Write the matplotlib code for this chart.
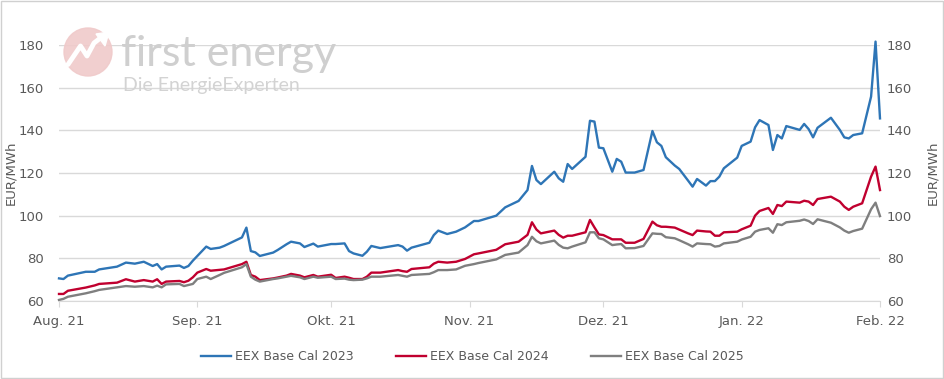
import matplotlib.pyplot as plt
import matplotlib.patches as mpatches
import pandas as pd

# EEX Base Cal futures, EUR/MWh
dates = [
    "2021-08-01", "2021-08-02", "2021-08-03", "2021-08-07", "2021-08-09", "2021-08-10",
    "2021-08-14", "2021-08-16", "2021-08-18", "2021-08-20", "2021-08-22", "2021-08-23",
    "2021-08-24", "2021-08-25", "2021-08-28", "2021-08-29", "2021-08-30", "2021-08-31",
    "2021-09-01", "2021-09-03", "2021-09-04", "2021-09-06", "2021-09-07", "2021-09-11",
    "2021-09-12", "2021-09-13", "2021-09-14", "2021-09-15", "2021-09-18", "2021-09-19",
    "2021-09-21", "2021-09-22", "2021-09-24", "2021-09-25", "2021-09-27", "2021-09-28",
    "2021-10-01", "2021-10-02", "2021-10-04", "2021-10-05", "2021-10-06", "2021-10-08",
    "2021-10-09", "2021-10-10", "2021-10-12", "2021-10-16", "2021-10-17", "2021-10-18",
    "2021-10-19", "2021-10-23", "2021-10-24", "2021-10-25", "2021-10-27", "2021-10-29",
    "2021-10-31", "2021-11-02", "2021-11-03", "2021-11-07", "2021-11-09", "2021-11-12",
    "2021-11-14", "2021-11-15", "2021-11-16", "2021-11-17", "2021-11-20", "2021-11-21",
    "2021-11-22", "2021-11-23", "2021-11-24", "2021-11-27", "2021-11-28", "2021-11-29",
    "2021-11-30", "2021-12-01", "2021-12-03", "2021-12-04", "2021-12-05", "2021-12-06",
    "2021-12-08", "2021-12-10", "2021-12-12", "2021-12-13", "2021-12-14", "2021-12-15",
    "2021-12-17", "2021-12-18", "2021-12-20", "2021-12-21", "2021-12-22", "2021-12-24",
    "2021-12-25", "2021-12-26", "2021-12-27", "2021-12-28", "2021-12-31", "2022-01-01",
    "2022-01-03", "2022-01-04", "2022-01-05", "2022-01-07", "2022-01-08", "2022-01-09",
    "2022-01-10", "2022-01-11", "2022-01-14", "2022-01-15", "2022-01-16", "2022-01-17",
    "2022-01-18", "2022-01-21", "2022-01-23", "2022-01-24", "2022-01-25", "2022-01-26",
    "2022-01-28", "2022-01-30", "2022-01-31", "2022-02-01",
]
cal_2023 = [
    70.6, 70.3, 71.9, 73.7, 73.7, 74.8, 76.1, 78.0, 77.5, 78.4, 76.4, 77.3,
    74.8, 76.1, 76.6, 75.5, 76.4, 78.9, 81.1, 85.5, 84.4, 85.0, 85.8, 89.8,
    94.4, 83.4, 82.8, 81.1, 82.7, 83.9, 86.6, 87.8, 87.0, 85.3, 86.9, 85.5,
    86.7, 86.7, 87.0, 83.4, 82.3, 81.2, 83.1, 85.8, 84.8, 86.2, 85.5, 83.6,
    85.0, 87.3, 90.9, 93.0, 91.4, 92.5, 94.5, 97.5, 97.5, 100.0, 103.9, 106.9,
    112.0, 123.3, 116.7, 114.8, 120.6, 117.5, 115.9, 124.2, 121.9, 127.6, 144.5, 144.1,
    131.9, 131.6, 120.6, 126.6, 125.3, 120.2, 120.2, 121.4, 139.7, 134.4, 132.7, 127.4,
    123.5, 121.9, 116.4, 113.6, 117.2, 114.1, 116.2, 116.2, 118.3, 122.2, 127.2, 132.7,
    134.7, 141.4, 144.8, 142.5, 130.8, 137.8, 136.2, 142.0, 140.2, 143.0, 140.6, 136.7,
    141.2, 145.9, 140.2, 136.7, 136.2, 137.8, 138.6, 155.8, 181.6, 145.6,
]
cal_2024 = [
    63.3, 63.3, 64.8, 66.3, 67.3, 68.0, 68.6, 70.2, 69.1, 69.8, 69.1, 70.2,
    68.0, 69.1, 69.4, 68.8, 69.5, 71.1, 73.3, 75.0, 74.2, 74.6, 74.8, 77.3,
    78.4, 72.2, 71.4, 69.8, 70.6, 71.0, 71.9, 72.7, 71.9, 71.1, 72.2, 71.4,
    72.3, 70.8, 71.4, 70.9, 70.3, 70.3, 71.4, 73.3, 73.3, 74.5, 74.0, 73.7,
    75.0, 75.8, 77.5, 78.4, 78.0, 78.4, 79.7, 81.9, 82.3, 84.0, 86.6, 87.8,
    91.0, 96.9, 93.5, 91.7, 93.0, 91.0, 89.7, 90.6, 90.6, 92.2, 98.0, 94.5,
    91.2, 90.9, 88.9, 88.9, 88.9, 87.3, 87.3, 89.1, 97.2, 95.5, 94.8, 94.8,
    94.4, 93.5, 91.7, 90.9, 93.0, 92.6, 92.5, 90.6, 90.6, 92.2, 92.5, 93.6,
    95.3, 100.0, 102.2, 103.6, 100.8, 105.0, 104.5, 106.6, 106.1, 107.0, 106.6, 105.0,
    107.8, 108.9, 106.6, 104.2, 102.7, 104.2, 105.8, 118.3, 123.0, 112.0,
]
cal_2025 = [
    60.5, 61.0, 62.0, 63.6, 64.6, 65.2, 66.4, 67.0, 66.7, 67.0, 66.4, 67.2,
    66.4, 67.8, 68.0, 67.0, 67.5, 68.0, 70.3, 71.4, 70.3, 72.2, 73.2, 75.8,
    77.3, 71.4, 70.0, 69.1, 70.3, 70.6, 71.4, 71.8, 71.1, 70.3, 71.4, 70.9,
    71.4, 70.3, 70.5, 70.0, 69.8, 70.0, 70.6, 71.4, 71.4, 72.2, 71.8, 71.4,
    72.2, 72.7, 73.5, 74.5, 74.5, 74.8, 76.5, 77.3, 77.8, 79.5, 81.6, 82.7,
    86.2, 90.1, 88.0, 87.0, 88.3, 86.3, 85.0, 84.7, 85.5, 87.5, 92.2, 92.2,
    89.4, 88.9, 86.2, 86.5, 86.7, 84.7, 84.8, 85.8, 91.7, 91.5, 91.4, 89.9,
    89.4, 88.5, 86.6, 85.5, 87.0, 86.7, 86.6, 85.5, 85.8, 87.0, 87.8, 88.8,
    90.1, 92.5, 93.3, 94.1, 92.0, 96.0, 95.6, 96.9, 97.6, 98.2, 97.5, 96.1,
    98.3, 96.7, 94.5, 93.0, 92.0, 92.8, 93.9, 103.0, 106.1, 99.8,
]
series_names = ["EEX Base Cal 2023", "EEX Base Cal 2024", "EEX Base Cal 2025"]
month_labels = ["Aug. 21", "Sep. 21", "Okt. 21", "Nov. 21", "Dez. 21", "Jan. 22", "Feb. 22"]
y_ticks = [60, 80, 100, 120, 140, 160, 180]

x = pd.to_datetime(dates)
month_ticks = pd.date_range("2021-08-01", "2022-02-01", freq="MS")

txt = "#595959"
grid = "#d9d9d9"
colors = ["#2e75b6", "#c0002f", "#7f7f7f"]

fig = plt.figure(figsize=(9.45, 3.79), dpi=100)
ax = fig.add_axes([59 / 945, 1 - 301 / 379, 821 / 945, 256 / 379])

# watermark logo
logo = fig.add_axes([63 / 945, 1 - 77 / 379, 50 / 945, 50 / 379])
logo.add_patch(mpatches.Circle((0.5, 0.5), 0.48, color="#f0caca", alpha=0.9))
logo.plot([0.1, 0.35, 0.48, 0.62, 0.8], [0.25, 0.62, 0.42, 0.68, 0.82],
          color="white", lw=3.5, solid_capstyle="round")
logo.add_patch(mpatches.Polygon([[0.66, 0.86], [0.92, 0.9], [0.84, 0.62]], color="white"))
logo.set_xlim(0, 1)
logo.set_ylim(0, 1)
logo.axis("off")
fig.text(121 / 945, 1 - 66 / 379, "first energy", fontsize=31, color="#cfcfcf",
         family="Lato", zorder=0)
fig.text(123 / 945, 1 - 91 / 379, "Die EnergieExperten", fontsize=14, color="#d3d3d3",
         family="Lato", zorder=0)

for vals, name, c in zip([cal_2023, cal_2024, cal_2025], series_names, colors):
    ax.plot(x, vals, color=c, lw=1.7, label=name, clip_on=False)

ax.set_xlim(month_ticks[0], month_ticks[-1])
ax.set_ylim(60, 180)
ax.set_yticks(y_ticks)
ax.set_xticks(month_ticks)
ax.set_xticklabels(month_labels)
ax.grid(axis="y", color=grid, lw=1)
ax.set_axisbelow(True)
for s in ["top", "left", "right"]:
    ax.spines[s].set_visible(False)
ax.spines["bottom"].set_color(grid)
ax.tick_params(axis="x", length=4, color=grid, colors=txt, labelsize=9.5, pad=6)
ax.tick_params(axis="y", length=0, colors=txt, labelsize=9.5, pad=11)
ax.set_ylabel("EUR/MWh", color=txt, fontsize=9.5, labelpad=1)

ax2 = ax.twinx()
ax2.set_ylim(60, 180)
ax2.set_yticks(y_ticks)
for s in ["top", "left", "right", "bottom"]:
    ax2.spines[s].set_visible(False)
ax2.tick_params(axis="y", length=0, colors=txt, labelsize=9.5, pad=5)
ax2.set_ylabel("EUR/MWh", color=txt, fontsize=9.5, labelpad=10)

fig.legend(loc="center", bbox_to_anchor=(0.5, 1 - 357 / 379), ncol=3, frameon=False,
           fontsize=9, labelcolor=txt, handlelength=2.4, handletextpad=0.3,
           columnspacing=3.4)

fig.patches.append(mpatches.Rectangle((0.001, 0.002), 0.997, 0.995, transform=fig.transFigure,
                                      fill=False, edgecolor="#d0d0d0", lw=1))

fig.savefig("out.png", dpi=100)
